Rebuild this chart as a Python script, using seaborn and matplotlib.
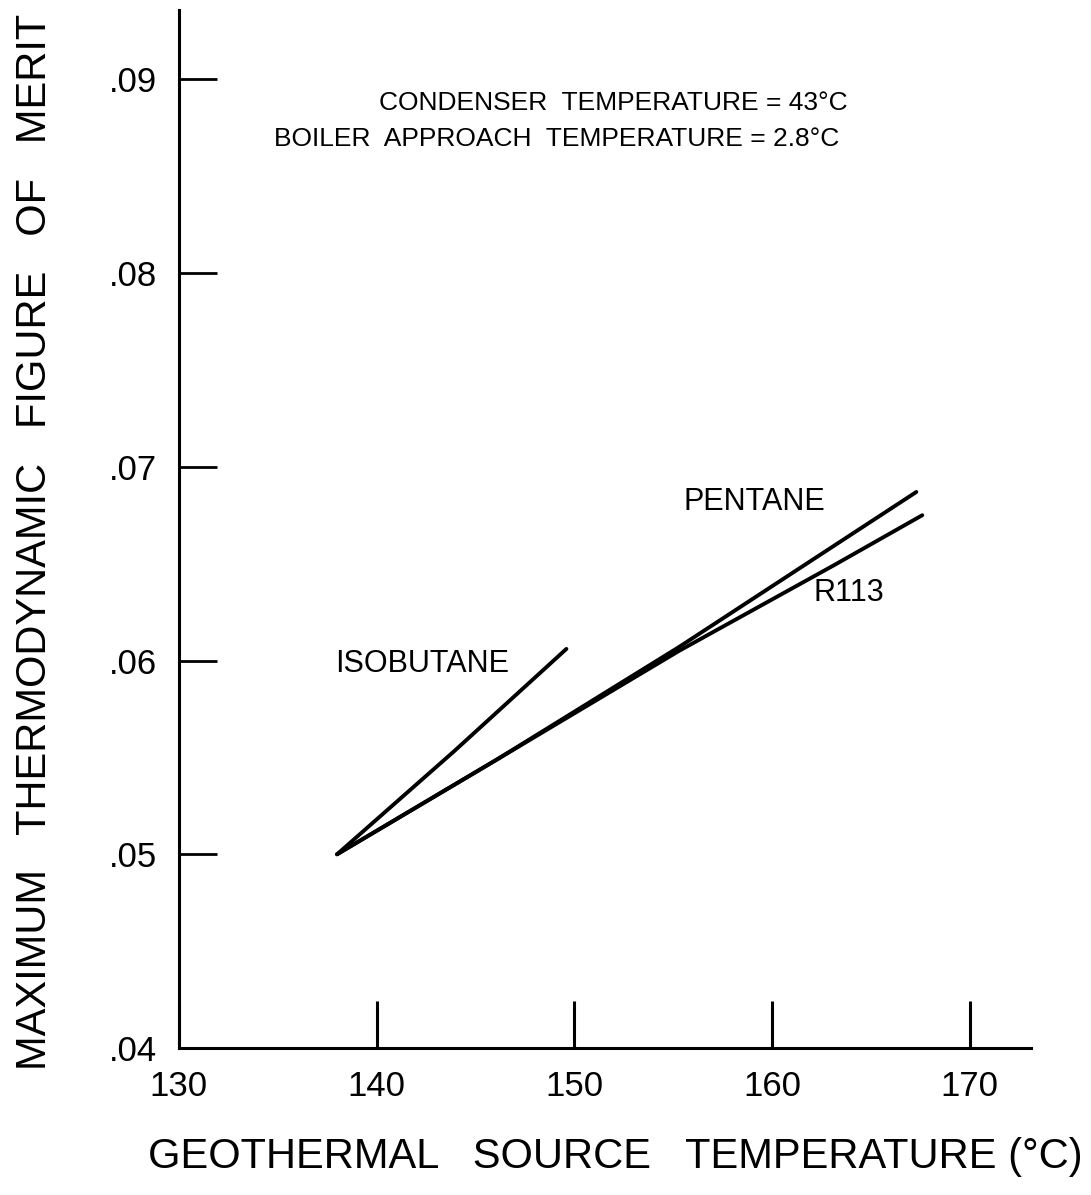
import matplotlib
matplotlib.use("Agg")
import matplotlib.pyplot as plt
import seaborn as sns
import pandas as pd

# ---- data ----
isobutane_x = [138.0, 143.9, 149.6]
isobutane_y = [0.0500, 0.0553, 0.0606]
pentane_x = [138.0, 146.1, 155.3, 163.1, 167.3]
pentane_y = [0.0500, 0.0549, 0.0607, 0.0659, 0.0687]
r113_x = [138.0, 146.1, 155.3, 163.1, 167.6]
r113_y = [0.0500, 0.0549, 0.0605, 0.0649, 0.0675]

x_ticks = [130, 140, 150, 160, 170]
x_tick_labels = ["130", "140", "150", "160", "170"]
y_ticks = [0.04, 0.05, 0.06, 0.07, 0.08, 0.09]
y_tick_labels = [".04", ".05", ".06", ".07", ".08", ".09"]

frames = []
for name, xs, ys in [("ISOBUTANE", isobutane_x, isobutane_y),
                     ("PENTANE", pentane_x, pentane_y),
                     ("R113", r113_x, r113_y)]:
    frames.append(pd.DataFrame({"temp": xs, "merit": ys, "fluid": name}))
df = pd.concat(frames, ignore_index=True)

sns.set_theme(style="white")
FAM = ["Liberation Sans", "DejaVu Sans"]
plt.rcParams["font.family"] = FAM
plt.rcParams["text.color"] = "black"
plt.rcParams["axes.labelcolor"] = "black"
plt.rcParams["xtick.color"] = "black"
plt.rcParams["ytick.color"] = "black"

fig = plt.figure(figsize=(10.91, 11.95), dpi=100)
ax = fig.add_axes([0.164, 0.123, 0.781, 0.869])

sns.lineplot(data=df, x="temp", y="merit", hue="fluid",
             palette={"ISOBUTANE": "black", "PENTANE": "black", "R113": "black"},
             linewidth=2.8, legend=False, ax=ax, sort=False,
             estimator=None)

ax.set_xlim(130, 173.1)
ax.set_ylim(0.04, 0.0936)

for s in ["top", "right"]:
    ax.spines[s].set_visible(False)
for s in ["left", "bottom"]:
    ax.spines[s].set_color("black")
    ax.spines[s].set_linewidth(2.2)

ax.set_xticks(x_ticks)
ax.set_xticklabels(x_tick_labels, fontsize=25)
ax.set_yticks(y_ticks)
ax.set_yticklabels(y_tick_labels, fontsize=25)
ax.tick_params(axis="x", direction="in", length=34, width=2.2, color="black",
               pad=16, bottom=True, labelcolor="black")
ax.tick_params(axis="y", direction="in", length=27, width=2.0, color="black",
               pad=16, left=True, labelcolor="black")

ax.set_xlabel("GEOTHERMAL   SOURCE   TEMPERATURE (°C)", fontsize=30,
              color="black")
ax.set_ylabel("MAXIMUM   THERMODYNAMIC   FIGURE   OF   MERIT", fontsize=30,
              color="black")
ax.xaxis.set_label_coords(0.512, -0.086)
ax.yaxis.set_label_coords(-0.145, 0.487)

ax.text(163.8, 0.0888, "CONDENSER  TEMPERATURE = 43°C", fontsize=19,
        ha="right", va="center", color="black")
ax.text(163.4, 0.0869, "BOILER  APPROACH  TEMPERATURE = 2.8°C", fontsize=19,
        ha="right", va="center", color="black")

ax.text(142.3, 0.0598, "ISOBUTANE", fontsize=22, ha="center", va="center",
        color="black")
ax.text(159.1, 0.0682, "PENTANE", fontsize=22, ha="center", va="center",
        color="black")
ax.text(163.9, 0.0635, "R113", fontsize=22, ha="center", va="center",
        color="black")

fig.savefig("out.png", dpi=100, facecolor="white")
